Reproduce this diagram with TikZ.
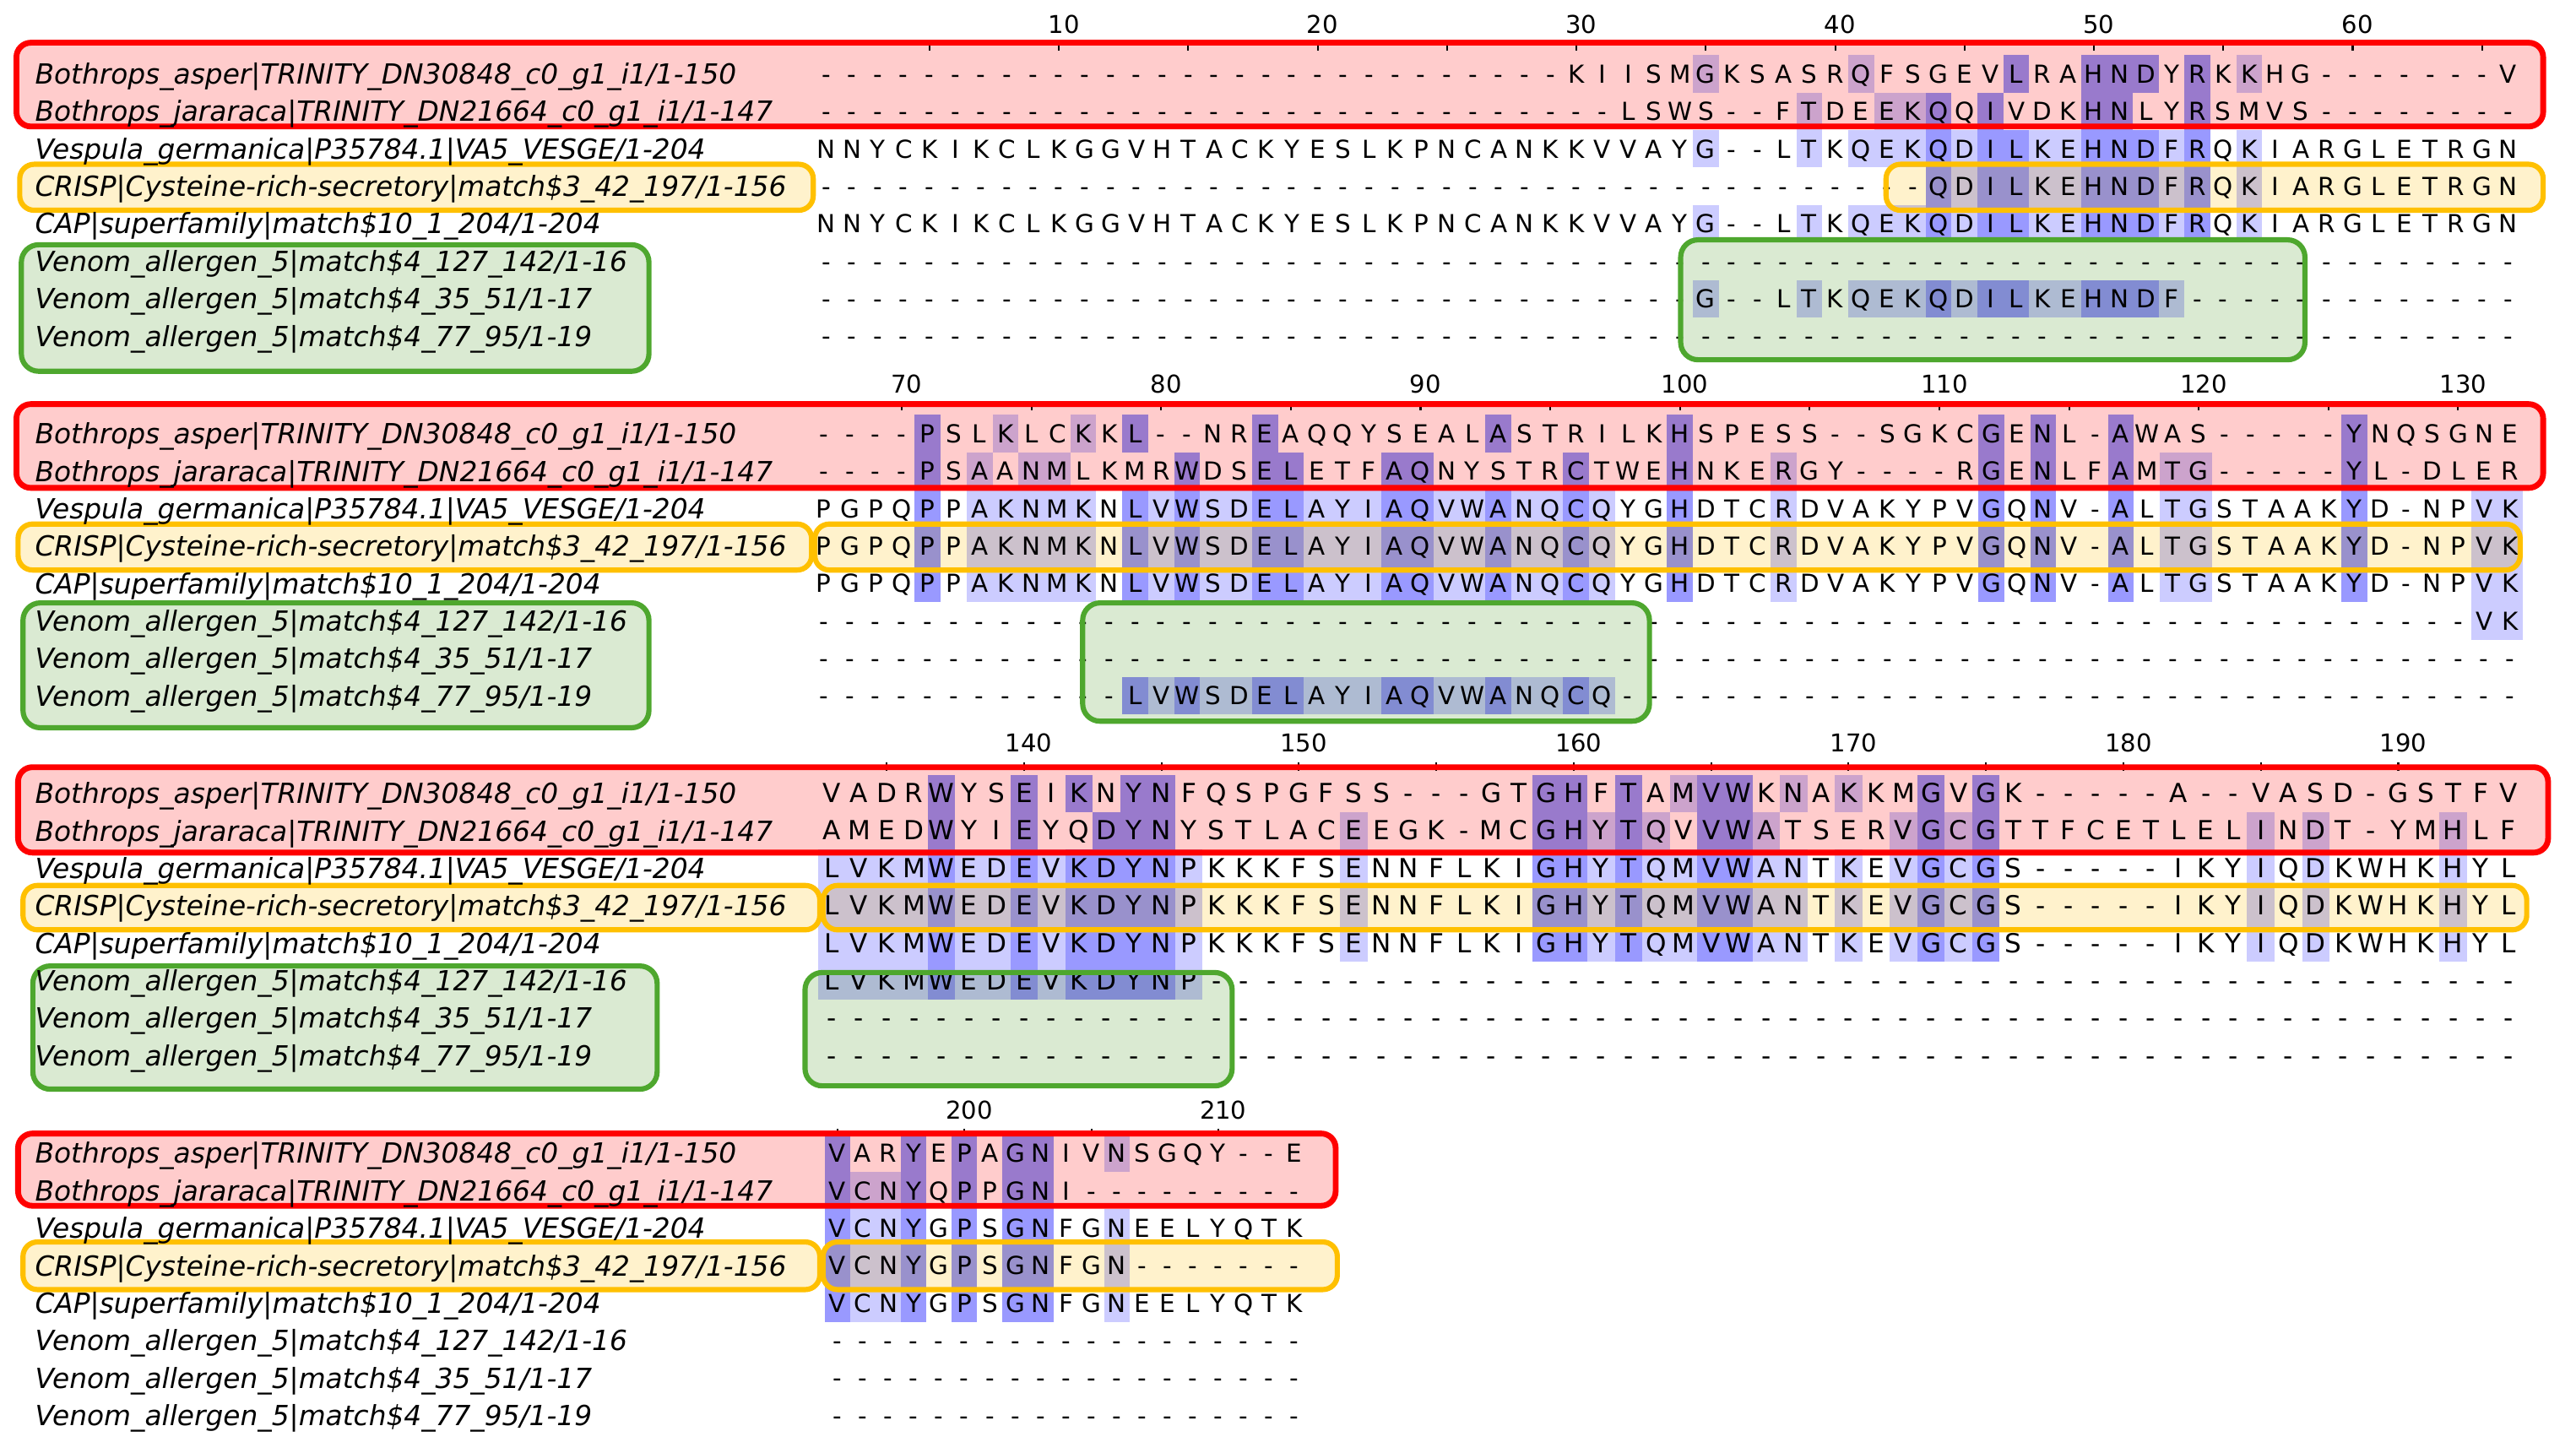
\documentclass[tikz,border=0pt]{standalone}
\usepackage{fontspec}
\setmainfont{DejaVu Sans}

\definecolor{boxred}{RGB}{255,0,0}
\definecolor{fillred}{RGB}{255,204,204}
\definecolor{boxgold}{RGB}{255,192,0}
\definecolor{fillgold}{RGB}{255,242,204}
\definecolor{boxgreen}{RGB}{78,167,46}
\definecolor{fillgreen}{RGB}{218,234,210}
\definecolor{pidlight}{RGB}{204,204,255}
\definecolor{pidmed}{RGB}{153,153,255}

\tikzset{
  res/.style={inner sep=0pt, text height=6.3pt, text depth=0pt,
    font=\fontsize{\blkfont}{\blkfont}\selectfont},
  seqlabel/.style={anchor=west, inner sep=0pt, text height=7pt, text depth=0pt,
    font=\fontsize{9.6}{10}\selectfont\itshape},
  rulernum/.style={inner sep=0pt, font=\fontsize{8.5}{9}\selectfont},
  rulertick/.style={line width=0.6pt},
  redfill/.style={fill=fillred, rounded corners=5pt},
  reddraw/.style={draw=boxred, line width=2pt, rounded corners=5pt},
  goldfill/.style={fill=fillgold, rounded corners=5pt},
  golddraw/.style={draw=boxgold, line width=1.8pt, rounded corners=5pt},
  greenfill/.style={fill=fillgreen, rounded corners=6pt},
  greendraw/.style={draw=boxgreen, line width=1.8pt, rounded corners=6pt},
}

% n copies of a character
\def\repchar#1#2{\ifnum#1>0 #2\expandafter\repchar\expandafter{\the\numexpr#1-1\relax}{#2}\fi}
\def\firstch#1#2\endch{#1}
\def\restch#1#2\endch{#2}

% block: number, x of first column, column width, first column number, y of first row, font size
\newcommand\setblock[6]{\def\blkno{#1}\def\blkx{#2}\def\blkw{#3}\def\blkfirst{#4}\def\blky{#5}\def\blkfont{#6}}

% one row of residues, shaded where it matches the column consensus
\newcommand\seqrow[2]{%
  \def\rowidx{#1}%
  \edef\seqrest{#2}%
  \let\consrest\blkcons
  \let\levrest\blklev
  \def\colidx{0}%
  \seqloop}
\def\seqloop{%
  \ifx\seqrest\empty\else
    \edef\resch{\expandafter\firstch\seqrest\endch}%
    \edef\seqrest{\expandafter\restch\seqrest\endch}%
    \edef\conch{\expandafter\firstch\consrest\endch}%
    \edef\consrest{\expandafter\restch\consrest\endch}%
    \edef\levch{\expandafter\firstch\levrest\endch}%
    \edef\levrest{\expandafter\restch\levrest\endch}%
    \pgfmathsetmacro\cx{\blkx+\colidx*\blkw}%
    \pgfmathsetmacro\cy{\blky+\rowidx*22.8}%
    \ifx\resch\conch
      \ifnum\levch=2 \def\cellcol{pidmed}\else\def\cellcol{pidlight}\fi
      \fill[fill=\cellcol] (\cx-\blkw/2,\cy-11.4) rectangle (\cx+\blkw/2,\cy+11.4);%
    \fi
    \node[res] (b\blkno r\rowidx c\colidx) at (\cx,\cy) {\resch};%
    \pgfmathtruncatemacro\colidx{\colidx+1}%
    \expandafter\seqloop
  \fi}

% highlight boxes, #1 = fill or draw
\newcommand\allboxes[1]{%
  % Bothrops rows
  \path[red#1] (10,26) rectangle (1548,77);
  \path[red#1] (10,246) rectangle (1548,297);
  \path[red#1] (11,467) rectangle (1551,519);
  \path[red#1] (11,690) rectangle (813,734);
  % CRISP rows
  \path[gold#1] (12,100) rectangle (495,128);
  \path[gold#1] (1148,100) rectangle (1548,128);
  \path[gold#1] (11,319) rectangle (494,347);
  \path[gold#1] (496,319) rectangle (1534,347);
  \path[gold#1] (14,539) rectangle (499,566);
  \path[gold#1] (501,539) rectangle (1538,566);
  \path[gold#1] (14,756) rectangle (499,785);
  \path[gold#1] (501,756) rectangle (814,785);
  % Venom allergen matches
  \path[green#1] (13,149) rectangle (395,226);
  \path[green#1] (1023,146) rectangle (1403,219);
  \path[green#1] (14,367) rectangle (395,443);
  \path[green#1] (659,367) rectangle (1004,439);
  \path[green#1] (20,588) rectangle (400,663);
  \path[green#1] (490,592) rectangle (750,661);
}

\begin{document}
\begin{tikzpicture}[x=0.02cm, y=-0.02cm]
\useasboundingbox (0,0) rectangle (1568,884);

% Box fills
\allboxes{fill}

\begin{scope}[blend mode=multiply]
% Block 1: columns 1-66
\setblock{1}{502.8}{15.75}{1}{45}{8.6}
\edef\blkcons{\repchar{34}{.}G...T.QEKQDILKEHNDFR.K\repchar{10}{.}}
\edef\blklev{\repchar{34}{0}1000101112122112221201\repchar{10}{0}}
\seqrow{0}{\repchar{29}{-}KIISMGKSASRQFSGEVLRAHNDYRKKHG\repchar{7}{-}V}
\seqrow{1}{\repchar{31}{-}LSWS--FTDEEKQQIVDKHNLYRSMVS\repchar{8}{-}}
\seqrow{2}{NNYCKIKCLKGGVHTACKYESLKPNCANKKVVAYG--LTKQEKQDILKEHNDFRQKIARGLETRGN}
\seqrow{3}{\repchar{43}{-}QDILKEHNDFRQKIARGLETRGN}
\seqrow{4}{NNYCKIKCLKGGVHTACKYESLKPNCANKKVVAYG--LTKQEKQDILKEHNDFRQKIARGLETRGN}
\seqrow{5}{\repchar{66}{-}}
\seqrow{6}{\repchar{34}{-}G--LTKQEKQDILKEHNDF\repchar{13}{-}}
\seqrow{7}{\repchar{66}{-}}
\foreach \t in {5,10,...,65} \draw[rulertick] ({\blkx+(\t-\blkfirst)*\blkw},\blky-19) -- ++(0,5);
\foreach \t in {10,20,...,60} \node[rulernum] (num\t) at ({\blkx+(\t-\blkfirst)*\blkw+3},\blky-30) {\t};

% Block 2: columns 67-132
\setblock{2}{501.5}{15.79}{67}{264}{8.6}
\edef\blkcons{\repchar{4}{.}P.AKNMK.LVWSDELAYIAQVWANQCQ..H...R\repchar{7}{.}G.N..A.TG\repchar{5}{.}Y....VK}
\edef\blklev{\repchar{4}{0}2011111021211221112211211210020001\repchar{7}{0}202002011\repchar{5}{0}2000011}
\seqrow{0}{\repchar{4}{-}PSLKLCKKL--NREAQQYSEALASTRILKHSPESS--SGKCGENL-AWAS\repchar{5}{-}YNQSGNE}
\seqrow{1}{\repchar{4}{-}PSAANMLKMRWDSELETFAQNYSTRCTWEHNKERGY----RGENLFAMTG\repchar{5}{-}YL-DLER}
\seqrow{2}{PGPQPPAKNMKNLVWSDELAYIAQVWANQCQYGHDTCRDVAKYPVGQNV-ALTGSTAAKYD-NPVK}
\seqrow{3}{PGPQPPAKNMKNLVWSDELAYIAQVWANQCQYGHDTCRDVAKYPVGQNV-ALTGSTAAKYD-NPVK}
\seqrow{4}{PGPQPPAKNMKNLVWSDELAYIAQVWANQCQYGHDTCRDVAKYPVGQNV-ALTGSTAAKYD-NPVK}
\seqrow{5}{\repchar{64}{-}VK}
\seqrow{6}{\repchar{66}{-}}
\seqrow{7}{\repchar{12}{-}LVWSDELAYIAQVWANQCQ\repchar{35}{-}}
\foreach \t in {70,75,...,130} \draw[rulertick] ({\blkx+(\t-\blkfirst)*\blkw},\blky-19) -- ++(0,5);
\foreach \t in {70,80,...,130} \node[rulernum] (num\t) at ({\blkx+(\t-\blkfirst)*\blkw+3},\blky-30) {\t};

% Block 3: columns 133-194
\setblock{3}{506.2}{16.73}{133}{483}{9.1}
\edef\blkcons{LVKMWEDEVKDYNP\repchar{5}{.}E\repchar{6}{.}GHYTQMVWAN.K.VGCG\repchar{9}{.}I.D....H..}
\edef\blklev{11112112122221\repchar{5}{0}1\repchar{6}{0}22121122110101212\repchar{9}{0}1010000100}
\seqrow{0}{VADRWYSEIKNYNFQSPGFSS---GTGHFTAMVWKNAKKMGVGK-----A--VASD-GSTFV}
\seqrow{1}{AMEDWYIEYQDYNYSTLACEEGK-MCGHYTQVVWATSERVGCGTTFCETLELINDT-YMHLF}
\seqrow{2}{LVKMWEDEVKDYNPKKKFSENNFLKIGHYTQMVWANTKEVGCGS-----IKYIQDKWHKHYL}
\seqrow{3}{LVKMWEDEVKDYNPKKKFSENNFLKIGHYTQMVWANTKEVGCGS-----IKYIQDKWHKHYL}
\seqrow{4}{LVKMWEDEVKDYNPKKKFSENNFLKIGHYTQMVWANTKEVGCGS-----IKYIQDKWHKHYL}
\seqrow{5}{LVKMWEDEVKDYNP\repchar{48}{-}}
\seqrow{6}{\repchar{62}{-}}
\seqrow{7}{\repchar{62}{-}}
\foreach \t in {135,140,...,190} \draw[rulertick] ({\blkx+(\t-\blkfirst)*\blkw},\blky-19) -- ++(0,5);
\foreach \t in {140,150,...,190} \node[rulernum] (num\t) at ({\blkx+(\t-\blkfirst)*\blkw+3},\blky-31) {\t};

% Block 4: columns 195-213
\setblock{4}{509.8}{15.45}{195}{702}{8.6}
\edef\blkcons{VCNY.P.GN..N\repchar{7}{.}}
\edef\blklev{211202022001\repchar{7}{0}}
\seqrow{0}{VARYEPAGNIVNSGQY--E}
\seqrow{1}{VCNYQPPGNI\repchar{9}{-}}
\seqrow{2}{VCNYGPSGNFGNEELYQTK}
\seqrow{3}{VCNYGPSGNFGN\repchar{7}{-}}
\seqrow{4}{VCNYGPSGNFGNEELYQTK}
\seqrow{5}{\repchar{19}{-}}
\seqrow{6}{\repchar{19}{-}}
\seqrow{7}{\repchar{19}{-}}
\foreach \t in {195,200,205,210} \draw[rulertick] ({\blkx+(\t-\blkfirst)*\blkw},\blky-15) -- ++(0,5);
\foreach \t in {200,210} \node[rulernum] (num\t) at ({\blkx+(\t-\blkfirst)*\blkw+3},\blky-26) {\t};
\end{scope}

% Box outlines
\allboxes{draw}

% Sequence names
\foreach \by [count=\b] in {45,264,483,702}
  \foreach \lab [count=\r from 0] in {Bothrops\_asper|TRINITY\_DN30848\_c0\_g1\_i1/1-150,
      Bothrops\_jararaca|TRINITY\_DN21664\_c0\_g1\_i1/1-147,
      Vespula\_germanica|P35784.1|VA5\_VESGE/1-204,
      CRISP|Cysteine-rich-secretory|match\$3\_42\_197/1-156,
      CAP|superfamily|match\$10\_1\_204/1-204,
      Venom\_allergen\_5|match\$4\_127\_142/1-16,
      Venom\_allergen\_5|match\$4\_35\_51/1-17,
      Venom\_allergen\_5|match\$4\_77\_95/1-19}
    \node[seqlabel] (name\b-\r) at (21,\by+\r*22.8) {\lab};
\end{tikzpicture}
\end{document}
